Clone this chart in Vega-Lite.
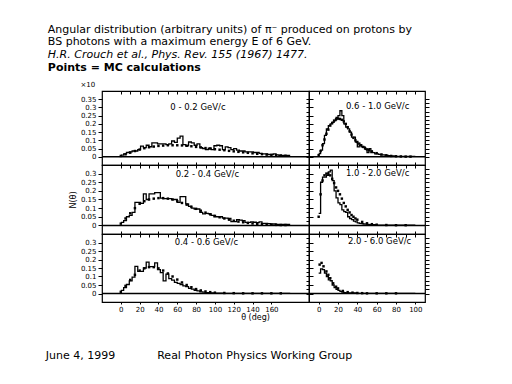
{
"$schema": "https://vega.github.io/schema/vega-lite/v6.json",
"padding": {"left": 45, "top": 23, "right": 5, "bottom": 5},
"config": {
  "font": "DejaVu Sans",
  "view": {"stroke": "black", "strokeWidth": 1.2},
  "axis": {"domain": false, "grid": false, "tickColor": "black", "tickWidth": 1, "labelColor": "black", "labelFont": "DejaVu Sans", "labelFontSize": 7, "labelPadding": 2, "titleFont": "DejaVu Sans", "titleFontWeight": "normal", "titleFontSize": 8, "titleColor": "black"},
  "concat": {"spacing": 0}
},
"datasets": {
  "hTL": [{"t":0,"n":0.01},{"t":3,"n":0.018},{"t":6,"n":0.026},{"t":9,"n":0.03},{"t":12,"n":0.035},{"t":15,"n":0.035},{"t":18,"n":0.044},{"t":21,"n":0.065},{"t":24,"n":0.056},{"t":27,"n":0.07},{"t":30,"n":0.061},{"t":33,"n":0.084},{"t":36,"n":0.084},{"t":39,"n":0.079},{"t":42,"n":0.079},{"t":45,"n":0.079},{"t":48,"n":0.074},{"t":51,"n":0.079},{"t":54,"n":0.096},{"t":57,"n":0.088},{"t":60,"n":0.114},{"t":63,"n":0.126},{"t":66,"n":0.074},{"t":69,"n":0.067},{"t":72,"n":0.09},{"t":75,"n":0.084},{"t":78,"n":0.07},{"t":81,"n":0.079},{"t":84,"n":0.056},{"t":87,"n":0.05},{"t":90,"n":0.044},{"t":93,"n":0.053},{"t":96,"n":0.044},{"t":99,"n":0.067},{"t":102,"n":0.07},{"t":105,"n":0.067},{"t":108,"n":0.044},{"t":111,"n":0.06},{"t":114,"n":0.056},{"t":117,"n":0.044},{"t":120,"n":0.049},{"t":123,"n":0.04},{"t":126,"n":0.035},{"t":129,"n":0.035},{"t":132,"n":0.03},{"t":135,"n":0.03},{"t":138,"n":0.03},{"t":141,"n":0.026},{"t":144,"n":0.027},{"t":147,"n":0.021},{"t":150,"n":0.018},{"t":153,"n":0.018},{"t":156,"n":0.014},{"t":159,"n":0.014},{"t":162,"n":0.018},{"t":165,"n":0.012},{"t":168,"n":0.009},{"t":171,"n":0.009},{"t":174,"n":0.009},{"t":177,"n":0.009},{"t":180,"n":0.009}],
  "pTL": [{"t":0,"n":0.005},{"t":5,"n":0.015},{"t":10,"n":0.025},{"t":15,"n":0.035},{"t":20,"n":0.044},{"t":25,"n":0.052},{"t":30,"n":0.058},{"t":35,"n":0.062},{"t":40,"n":0.066},{"t":45,"n":0.068},{"t":50,"n":0.07},{"t":55,"n":0.07},{"t":60,"n":0.07},{"t":65,"n":0.069},{"t":70,"n":0.067},{"t":75,"n":0.064},{"t":80,"n":0.06},{"t":85,"n":0.057},{"t":90,"n":0.053},{"t":95,"n":0.05},{"t":100,"n":0.046},{"t":105,"n":0.043},{"t":110,"n":0.04},{"t":115,"n":0.036},{"t":120,"n":0.033},{"t":125,"n":0.03},{"t":130,"n":0.027},{"t":135,"n":0.024},{"t":140,"n":0.021},{"t":145,"n":0.018},{"t":150,"n":0.016},{"t":155,"n":0.013},{"t":160,"n":0.011},{"t":165,"n":0.01},{"t":170,"n":0.008},{"t":175,"n":0.006}],
  "hML": [{"t":0,"n":0.017},{"t":3,"n":0.028},{"t":6,"n":0.05},{"t":9,"n":0.058},{"t":12,"n":0.075},{"t":15,"n":0.133},{"t":18,"n":0.133},{"t":21,"n":0.128},{"t":24,"n":0.183},{"t":27,"n":0.15},{"t":30,"n":0.183},{"t":33,"n":0.183},{"t":36,"n":0.19},{"t":39,"n":0.19},{"t":42,"n":0.158},{"t":45,"n":0.155},{"t":48,"n":0.155},{"t":51,"n":0.155},{"t":54,"n":0.15},{"t":57,"n":0.15},{"t":60,"n":0.133},{"t":63,"n":0.167},{"t":66,"n":0.167},{"t":69,"n":0.125},{"t":72,"n":0.11},{"t":75,"n":0.1},{"t":78,"n":0.095},{"t":81,"n":0.095},{"t":84,"n":0.075},{"t":87,"n":0.067},{"t":90,"n":0.07},{"t":93,"n":0.067},{"t":96,"n":0.058},{"t":99,"n":0.05},{"t":102,"n":0.05},{"t":105,"n":0.05},{"t":108,"n":0.042},{"t":111,"n":0.042},{"t":114,"n":0.04},{"t":117,"n":0.022},{"t":120,"n":0.022},{"t":123,"n":0.033},{"t":126,"n":0.03},{"t":129,"n":0.028},{"t":132,"n":0.017},{"t":135,"n":0.017},{"t":138,"n":0.02},{"t":141,"n":0.018},{"t":144,"n":0.016},{"t":147,"n":0.02},{"t":150,"n":0.012},{"t":153,"n":0.012},{"t":156,"n":0.01},{"t":159,"n":0.008},{"t":162,"n":0.008},{"t":165,"n":0.006},{"t":168,"n":0.005},{"t":171,"n":0.005},{"t":174,"n":0.005},{"t":177,"n":0.005},{"t":180,"n":0.005}],
  "pML": [{"t":0,"n":0.01},{"t":5,"n":0.04},{"t":10,"n":0.07},{"t":15,"n":0.1},{"t":20,"n":0.125},{"t":25,"n":0.14},{"t":30,"n":0.15},{"t":35,"n":0.155},{"t":40,"n":0.158},{"t":45,"n":0.158},{"t":50,"n":0.155},{"t":55,"n":0.15},{"t":60,"n":0.14},{"t":65,"n":0.13},{"t":70,"n":0.12},{"t":75,"n":0.108},{"t":80,"n":0.096},{"t":85,"n":0.085},{"t":90,"n":0.074},{"t":95,"n":0.064},{"t":100,"n":0.055},{"t":105,"n":0.047},{"t":110,"n":0.04},{"t":115,"n":0.033},{"t":120,"n":0.027},{"t":125,"n":0.022},{"t":130,"n":0.018},{"t":135,"n":0.014},{"t":140,"n":0.011},{"t":145,"n":0.009},{"t":150,"n":0.007},{"t":155,"n":0.005},{"t":160,"n":0.004},{"t":165,"n":0.003},{"t":170,"n":0.002},{"t":175,"n":0.002}],
  "hBL": [{"t":0,"n":0.018},{"t":3,"n":0.035},{"t":6,"n":0.053},{"t":9,"n":0.074},{"t":12,"n":0.096},{"t":15,"n":0.16},{"t":18,"n":0.13},{"t":21,"n":0.13},{"t":24,"n":0.15},{"t":27,"n":0.184},{"t":30,"n":0.158},{"t":33,"n":0.158},{"t":36,"n":0.18},{"t":39,"n":0.14},{"t":42,"n":0.123},{"t":45,"n":0.074},{"t":48,"n":0.114},{"t":51,"n":0.088},{"t":54,"n":0.079},{"t":57,"n":0.065},{"t":60,"n":0.06},{"t":63,"n":0.053},{"t":66,"n":0.045},{"t":69,"n":0.04},{"t":72,"n":0.03},{"t":75,"n":0.026},{"t":78,"n":0.018},{"t":81,"n":0.015},{"t":84,"n":0.009},{"t":87,"n":0.008},{"t":90,"n":0.005},{"t":93,"n":0.003},{"t":96,"n":0.003},{"t":99,"n":0.002},{"t":102,"n":0.002},{"t":105,"n":0.002},{"t":108,"n":0.001},{"t":180,"n":0.001}],
  "pBL": [{"t":0,"n":0.01},{"t":5,"n":0.045},{"t":10,"n":0.08},{"t":15,"n":0.11},{"t":20,"n":0.135},{"t":25,"n":0.148},{"t":30,"n":0.155},{"t":35,"n":0.155},{"t":40,"n":0.148},{"t":45,"n":0.135},{"t":50,"n":0.118},{"t":55,"n":0.1},{"t":60,"n":0.082},{"t":65,"n":0.065},{"t":70,"n":0.05},{"t":75,"n":0.037},{"t":80,"n":0.026},{"t":85,"n":0.018},{"t":90,"n":0.012},{"t":95,"n":0.008},{"t":100,"n":0.005},{"t":110,"n":0.003},{"t":120,"n":0.002},{"t":130,"n":0.001},{"t":140,"n":0.001},{"t":150,"n":0.001},{"t":160,"n":0.001},{"t":170,"n":0.001}],
  "hTR": [{"t":0,"n":0.02},{"t":2,"n":0.04},{"t":4,"n":0.08},{"t":6,"n":0.13},{"t":8,"n":0.17},{"t":10,"n":0.19},{"t":12,"n":0.2},{"t":14,"n":0.21},{"t":16,"n":0.22},{"t":18,"n":0.24},{"t":20,"n":0.25},{"t":22,"n":0.28},{"t":24,"n":0.25},{"t":26,"n":0.2},{"t":28,"n":0.18},{"t":30,"n":0.17},{"t":32,"n":0.15},{"t":34,"n":0.12},{"t":36,"n":0.12},{"t":38,"n":0.09},{"t":40,"n":0.06},{"t":42,"n":0.07},{"t":44,"n":0.06},{"t":46,"n":0.06},{"t":48,"n":0.045},{"t":50,"n":0.026},{"t":52,"n":0.05},{"t":54,"n":0.026},{"t":56,"n":0.025},{"t":58,"n":0.018},{"t":60,"n":0.018},{"t":62,"n":0.015},{"t":64,"n":0.012},{"t":66,"n":0.012},{"t":68,"n":0.01},{"t":70,"n":0.008},{"t":72,"n":0.007},{"t":74,"n":0.006},{"t":76,"n":0.005},{"t":78,"n":0.004},{"t":80,"n":0.003},{"t":100,"n":0.003}],
  "pTR": [{"t":0,"n":0.01},{"t":2,"n":0.035},{"t":4,"n":0.07},{"t":6,"n":0.105},{"t":8,"n":0.14},{"t":10,"n":0.165},{"t":12,"n":0.19},{"t":14,"n":0.205},{"t":16,"n":0.22},{"t":18,"n":0.228},{"t":20,"n":0.232},{"t":22,"n":0.23},{"t":24,"n":0.225},{"t":26,"n":0.215},{"t":28,"n":0.2},{"t":30,"n":0.18},{"t":32,"n":0.155},{"t":34,"n":0.135},{"t":36,"n":0.115},{"t":38,"n":0.1},{"t":40,"n":0.09},{"t":42,"n":0.08},{"t":44,"n":0.07},{"t":46,"n":0.06},{"t":48,"n":0.052},{"t":50,"n":0.045},{"t":52,"n":0.04},{"t":55,"n":0.033},{"t":60,"n":0.022},{"t":65,"n":0.014},{"t":70,"n":0.009},{"t":75,"n":0.005},{"t":80,"n":0.003},{"t":85,"n":0.002},{"t":90,"n":0.001},{"t":95,"n":0.001}],
  "hMR": [{"t":0,"n":0.07},{"t":2,"n":0.25},{"t":4,"n":0.28},{"t":6,"n":0.28},{"t":8,"n":0.29},{"t":10,"n":0.31},{"t":12,"n":0.32},{"t":14,"n":0.26},{"t":16,"n":0.2},{"t":18,"n":0.16},{"t":20,"n":0.13},{"t":22,"n":0.12},{"t":24,"n":0.09},{"t":26,"n":0.08},{"t":28,"n":0.075},{"t":30,"n":0.05},{"t":32,"n":0.04},{"t":34,"n":0.033},{"t":36,"n":0.025},{"t":38,"n":0.02},{"t":40,"n":0.015},{"t":42,"n":0.012},{"t":44,"n":0.01},{"t":46,"n":0.008},{"t":48,"n":0.007},{"t":50,"n":0.006},{"t":52,"n":0.004},{"t":60,"n":0.002},{"t":100,"n":0.002}],
  "pMR": [{"t":0,"n":0.05},{"t":2,"n":0.18},{"t":4,"n":0.26},{"t":6,"n":0.29},{"t":8,"n":0.3},{"t":10,"n":0.3},{"t":12,"n":0.29},{"t":14,"n":0.27},{"t":16,"n":0.245},{"t":18,"n":0.22},{"t":20,"n":0.2},{"t":22,"n":0.18},{"t":24,"n":0.155},{"t":26,"n":0.13},{"t":28,"n":0.11},{"t":30,"n":0.09},{"t":32,"n":0.075},{"t":34,"n":0.06},{"t":36,"n":0.05},{"t":38,"n":0.04},{"t":40,"n":0.033},{"t":45,"n":0.02},{"t":50,"n":0.012},{"t":55,"n":0.007},{"t":60,"n":0.004},{"t":70,"n":0.002},{"t":80,"n":0.001},{"t":90,"n":0.001}],
  "hBR": [{"t":0,"n":0.12},{"t":2,"n":0.145},{"t":4,"n":0.14},{"t":6,"n":0.12},{"t":8,"n":0.1},{"t":10,"n":0.08},{"t":12,"n":0.075},{"t":14,"n":0.05},{"t":16,"n":0.035},{"t":18,"n":0.025},{"t":20,"n":0.018},{"t":22,"n":0.012},{"t":24,"n":0.008},{"t":26,"n":0.005},{"t":28,"n":0.003},{"t":40,"n":0.001},{"t":100,"n":0.001}],
  "pBR": [{"t":1,"n":0.17},{"t":3,"n":0.18},{"t":5,"n":0.16},{"t":8,"n":0.13},{"t":10,"n":0.11},{"t":12,"n":0.09},{"t":15,"n":0.06},{"t":18,"n":0.04},{"t":20,"n":0.03},{"t":25,"n":0.015},{"t":30,"n":0.008},{"t":35,"n":0.005},{"t":40,"n":0.003},{"t":45,"n":0.002},{"t":50,"n":0.001},{"t":60,"n":0.001},{"t":70,"n":0.001},{"t":80,"n":0.001}],
  "one": [{"k": 1}]
},
"title": {"text": "June 4, 1999\u00a0\u00a0\u00a0\u00a0\u00a0\u00a0\u00a0\u00a0\u00a0\u00a0\u00a0\u00a0Real Photon Physics Working Group", "orient": "bottom", "anchor": "start", "font": "DejaVu Sans", "fontSize": 11, "fontWeight": "normal", "color": "black", "offset": 28, "dx": -2},
"vconcat": [
 {
  "title": {"text": ["Angular  distribution  (arbitrary units) of π⁻ produced on protons by", "BS photons with a maximum energy E of 6 GeV."], "subtitle": "H.R. Crouch et al., Phys. Rev. 155 (1967) 1477.", "anchor": "start", "font": "DejaVu Sans", "fontSize": 11, "fontWeight": "normal", "lineHeight": 12.8, "color": "black", "subtitleFont": "DejaVu Sans", "subtitleFontSize": 11, "subtitleFontStyle": "italic", "subtitleColor": "black", "subtitleLineHeight": 12.8, "subtitlePadding": 2, "offset": 2},
  "vconcat": [
   {
    "title": {"text": "Points = MC calculations", "anchor": "start", "font": "DejaVu Sans", "fontSize": 11, "fontWeight": "bold", "color": "black", "offset": 6, "dx": -21},
    "columns": 2,
    "spacing": 0,
    "bounds": "flush",
    "align": "each",
    "concat": [
       {"width": 207, "height": 74,
        "layer": [
         {"data": {"name": "hTL"}, "mark": {"type": "line", "interpolate": "step-after", "color": "black", "strokeWidth": 1.3},
          "encoding": {"x": {"field": "t", "type": "quantitative", "scale": {"domain": [-1, 181]}, "axis": {"orient": "bottom", "values": [0,20,40,60,80,100,120,140,160,180], "labels": false, "title": null, "tickSize": -3}},
                       "y": {"field": "n", "type": "quantitative", "scale": {"domain": [-0.026, 0.363]}, "axis": {"orient": "left", "values": [0,0.05,0.1,0.15,0.2,0.25,0.3,0.35], "format": "~g", "tickSize": 4, "title": "×10", "titleAngle": 0, "titleAlign": "left", "titleBaseline": "bottom", "titleX": -22, "titleY": -4, "titleFontSize": 7}}}},
         {"data": {"name": "pTL"}, "mark": {"type": "square", "size": 6, "color": "black", "filled": true, "opacity": 1},
          "encoding": {"x": {"field": "t", "type": "quantitative", "axis": {"orient": "top", "values": [0,10,20,30,40,50,60,70,80,90,100,110,120,130,140,150,160,170,180], "labels": false, "title": null, "tickSize": -3}},
                       "y": {"field": "n", "type": "quantitative", "axis": {"orient": "right", "values": [0,0.025,0.05,0.075,0.1,0.125,0.15,0.175,0.2,0.225,0.25,0.275,0.3,0.325,0.35], "labels": false, "title": null, "tickSize": -3}}}},
         {"data": {"name": "one"}, "mark": {"type": "rule", "color": "black", "strokeWidth": 1.5}, "encoding": {"y": {"datum": 0, "type": "quantitative", "axis": null}}},
         {"data": {"name": "one"}, "mark": {"type": "text", "fontSize": 8.5, "color": "black"}, "encoding": {"x": {"datum": 82, "type": "quantitative", "axis": null}, "y": {"datum": 0.3, "type": "quantitative", "axis": null}, "text": {"value": "0 - 0.2 GeV/c"}}}
        ],
        "resolve": {"axis": {"x": "independent", "y": "independent"}}},
       {"width": 116, "height": 74,
        "layer": [
         {"data": {"name": "hTR"}, "mark": {"type": "line", "interpolate": "step-after", "color": "black", "strokeWidth": 1.3},
          "encoding": {"x": {"field": "t", "type": "quantitative", "scale": {"domain": [-3.5, 102]}, "axis": {"orient": "bottom", "values": [0,20,40,60,80,100], "labels": false, "title": null, "tickSize": -3}},
                       "y": {"field": "n", "type": "quantitative", "scale": {"domain": [-0.026, 0.363]}, "axis": {"orient": "left", "values": [0,0.05,0.1,0.15,0.2,0.25,0.3,0.35], "labels": false, "tickSize": -4, "title": null}}}},
         {"data": {"name": "pTR"}, "mark": {"type": "square", "size": 6, "color": "black", "filled": true, "opacity": 1},
          "encoding": {"x": {"field": "t", "type": "quantitative", "axis": {"orient": "top", "values": [0,10,20,30,40,50,60,70,80,90,100], "labels": false, "title": null, "tickSize": -3}},
                       "y": {"field": "n", "type": "quantitative", "axis": {"orient": "right", "values": [0,0.025,0.05,0.075,0.1,0.125,0.15,0.175,0.2,0.225,0.25,0.275,0.3,0.325,0.35], "labels": false, "title": null, "tickSize": 4}}}},
         {"data": {"name": "one"}, "mark": {"type": "rule", "color": "black", "strokeWidth": 1.5}, "encoding": {"y": {"datum": 0, "type": "quantitative", "axis": null}}},
         {"data": {"name": "one"}, "mark": {"type": "text", "fontSize": 8.5, "color": "black"}, "encoding": {"x": {"datum": 61, "type": "quantitative", "axis": null}, "y": {"datum": 0.31, "type": "quantitative", "axis": null}, "text": {"value": "0.6 - 1.0 GeV/c"}}}
        ],
        "resolve": {"axis": {"x": "independent", "y": "independent"}}},
       {"width": 207, "height": 69,
        "layer": [
         {"data": {"name": "hML"}, "mark": {"type": "line", "interpolate": "step-after", "color": "black", "strokeWidth": 1.3},
          "encoding": {"x": {"field": "t", "type": "quantitative", "scale": {"domain": [-1, 181]}, "axis": {"orient": "bottom", "values": [0,20,40,60,80,100,120,140,160,180], "labels": false, "title": null, "tickSize": -3}},
                       "y": {"field": "n", "type": "quantitative", "scale": {"domain": [-0.01, 0.344]}, "axis": {"orient": "left", "values": [0,0.05,0.1,0.15,0.2,0.25,0.3], "format": "~g", "tickSize": 4, "title": "N(θ)", "titlePadding": 3}}}},
         {"data": {"name": "pML"}, "mark": {"type": "square", "size": 6, "color": "black", "filled": true, "opacity": 1},
          "encoding": {"x": {"field": "t", "type": "quantitative", "axis": {"orient": "top", "values": [0,10,20,30,40,50,60,70,80,90,100,110,120,130,140,150,160,170,180], "labels": false, "title": null, "tickSize": -3}},
                       "y": {"field": "n", "type": "quantitative", "axis": {"orient": "right", "values": [0,0.025,0.05,0.075,0.1,0.125,0.15,0.175,0.2,0.225,0.25,0.275,0.3,0.325], "labels": false, "title": null, "tickSize": -3}}}},
         {"data": {"name": "one"}, "mark": {"type": "rule", "color": "black", "strokeWidth": 1.5}, "encoding": {"y": {"datum": 0, "type": "quantitative", "axis": null}}},
         {"data": {"name": "one"}, "mark": {"type": "text", "fontSize": 8.5, "color": "black"}, "encoding": {"x": {"datum": 92, "type": "quantitative", "axis": null}, "y": {"datum": 0.3, "type": "quantitative", "axis": null}, "text": {"value": "0.2 - 0.4 GeV/c"}}}
        ],
        "resolve": {"axis": {"x": "independent", "y": "independent"}}},
       {"width": 116, "height": 69,
        "layer": [
         {"data": {"name": "hMR"}, "mark": {"type": "line", "interpolate": "step-after", "color": "black", "strokeWidth": 1.3},
          "encoding": {"x": {"field": "t", "type": "quantitative", "scale": {"domain": [-3.5, 102]}, "axis": {"orient": "bottom", "values": [0,20,40,60,80,100], "labels": false, "title": null, "tickSize": -3}},
                       "y": {"field": "n", "type": "quantitative", "scale": {"domain": [-0.01, 0.344]}, "axis": {"orient": "left", "values": [0,0.05,0.1,0.15,0.2,0.25,0.3], "labels": false, "tickSize": -4, "title": null}}}},
         {"data": {"name": "pMR"}, "mark": {"type": "square", "size": 6, "color": "black", "filled": true, "opacity": 1},
          "encoding": {"x": {"field": "t", "type": "quantitative", "axis": {"orient": "top", "values": [0,10,20,30,40,50,60,70,80,90,100], "labels": false, "title": null, "tickSize": -3}},
                       "y": {"field": "n", "type": "quantitative", "axis": {"orient": "right", "values": [0,0.025,0.05,0.075,0.1,0.125,0.15,0.175,0.2,0.225,0.25,0.275,0.3,0.325], "labels": false, "title": null, "tickSize": 4}}}},
         {"data": {"name": "one"}, "mark": {"type": "rule", "color": "black", "strokeWidth": 1.5}, "encoding": {"y": {"datum": 0, "type": "quantitative", "axis": null}}},
         {"data": {"name": "one"}, "mark": {"type": "text", "fontSize": 8.5, "color": "black"}, "encoding": {"x": {"datum": 61, "type": "quantitative", "axis": null}, "y": {"datum": 0.305, "type": "quantitative", "axis": null}, "text": {"value": "1.0 - 2.0 GeV/c"}}}
        ],
        "resolve": {"axis": {"x": "independent", "y": "independent"}}},
       {"width": 207, "height": 68,
        "layer": [
         {"data": {"name": "hBL"}, "mark": {"type": "line", "interpolate": "step-after", "color": "black", "strokeWidth": 1.3},
          "encoding": {"x": {"field": "t", "type": "quantitative", "scale": {"domain": [-1, 181]}, "axis": {"orient": "bottom", "values": [0,20,40,60,80,100,120,140,160], "tickSize": 2, "labelPadding": 1, "title": "θ (deg)", "titleX": 153, "titlePadding": 1}},
                       "y": {"field": "n", "type": "quantitative", "scale": {"domain": [-0.0105, 0.347]}, "axis": {"orient": "left", "values": [0,0.05,0.1,0.15,0.2,0.25,0.3], "format": "~g", "tickSize": 4, "title": null}}}},
         {"data": {"name": "pBL"}, "mark": {"type": "square", "size": 6, "color": "black", "filled": true, "opacity": 1},
          "encoding": {"x": {"field": "t", "type": "quantitative", "axis": {"orient": "top", "values": [0,10,20,30,40,50,60,70,80,90,100,110,120,130,140,150,160,170,180], "labels": false, "title": null, "tickSize": -3}},
                       "y": {"field": "n", "type": "quantitative", "axis": {"orient": "right", "values": [0,0.025,0.05,0.075,0.1,0.125,0.15,0.175,0.2,0.225,0.25,0.275,0.3,0.325], "labels": false, "title": null, "tickSize": -3}}}},
         {"data": {"name": "one"}, "mark": {"type": "rule", "color": "black", "strokeWidth": 1.5}, "encoding": {"y": {"datum": 0, "type": "quantitative", "axis": null}}},
         {"data": {"name": "one"}, "mark": {"type": "text", "fontSize": 8.5, "color": "black"}, "encoding": {"x": {"datum": 91, "type": "quantitative", "axis": null}, "y": {"datum": 0.305, "type": "quantitative", "axis": null}, "text": {"value": "0.4 - 0.6 GeV/c"}}}
        ],
        "resolve": {"axis": {"x": "independent", "y": "independent"}}},
       {"width": 116, "height": 68,
        "layer": [
         {"data": {"name": "hBR"}, "mark": {"type": "line", "interpolate": "step-after", "color": "black", "strokeWidth": 1.3},
          "encoding": {"x": {"field": "t", "type": "quantitative", "scale": {"domain": [-3.5, 102]}, "axis": {"orient": "bottom", "values": [0,20,40,60,80,100], "tickSize": 2, "labelPadding": 1, "title": null}},
                       "y": {"field": "n", "type": "quantitative", "scale": {"domain": [-0.0105, 0.347]}, "axis": {"orient": "left", "values": [0,0.05,0.1,0.15,0.2,0.25,0.3], "labels": false, "tickSize": -4, "title": null}}}},
         {"data": {"name": "pBR"}, "mark": {"type": "square", "size": 6, "color": "black", "filled": true, "opacity": 1},
          "encoding": {"x": {"field": "t", "type": "quantitative", "axis": {"orient": "top", "values": [0,10,20,30,40,50,60,70,80,90,100], "labels": false, "title": null, "tickSize": -3}},
                       "y": {"field": "n", "type": "quantitative", "axis": {"orient": "right", "values": [0,0.025,0.05,0.075,0.1,0.125,0.15,0.175,0.2,0.225,0.25,0.275,0.3,0.325], "labels": false, "title": null, "tickSize": 4}}}},
         {"data": {"name": "one"}, "mark": {"type": "rule", "color": "black", "strokeWidth": 1.5}, "encoding": {"y": {"datum": 0, "type": "quantitative", "axis": null}}},
         {"data": {"name": "one"}, "mark": {"type": "text", "fontSize": 8.5, "color": "black"}, "encoding": {"x": {"datum": 63, "type": "quantitative", "axis": null}, "y": {"datum": 0.31, "type": "quantitative", "axis": null}, "text": {"value": "2.0 - 6.0 GeV/c"}}}
        ],
        "resolve": {"axis": {"x": "independent", "y": "independent"}}}
    ]
   }
  ]
 }
]
}
